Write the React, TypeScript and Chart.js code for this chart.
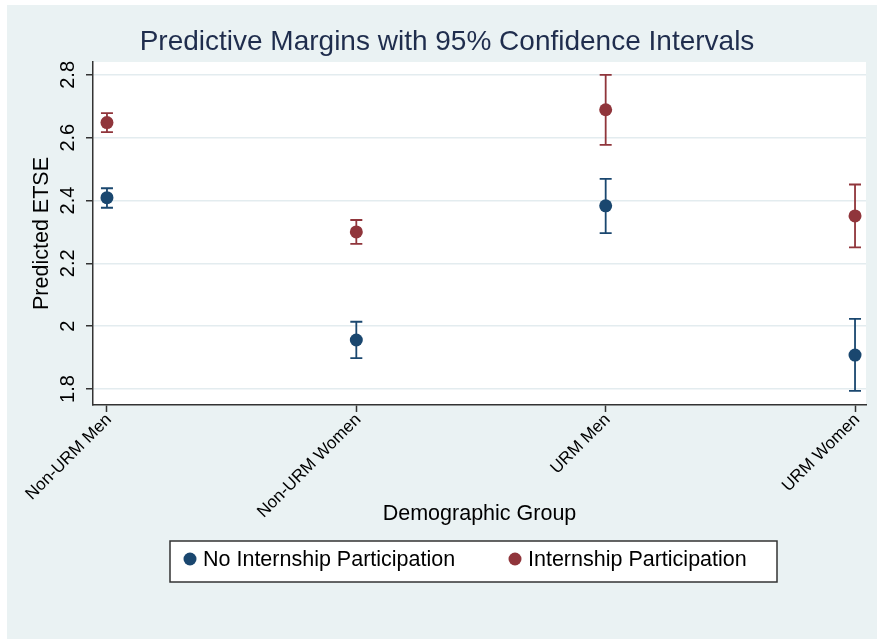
import React, { useEffect, useRef } from "react";
import { Chart, registerables } from "chart.js";

Chart.register(...registerables);

const categories = ["Non-URM Men", "Non-URM Women", "URM Men", "URM Women"];
const seriesNames = ["No Internship Participation", "Internship Participation"];
const noIntern = [2.409, 1.956, 2.383, 1.908];
const noInternLow = [2.377, 1.898, 2.296, 1.794];
const noInternHigh = [2.439, 2.014, 2.469, 2.023];
const intern = [2.648, 2.3, 2.689, 2.351];
const internLow = [2.618, 2.262, 2.577, 2.251];
const internHigh = [2.678, 2.338, 2.8, 2.451];
const yTickValues = [1.8, 2, 2.2, 2.4, 2.6, 2.8];
const yTickLabels = ["1.8", "2", "2.2", "2.4", "2.6", "2.8"];

const titleText = "Predictive Margins with 95% Confidence Intervals";
const xTitle = "Demographic Group";
const yTitle = "Predicted ETSE";

const BLUE = "#1a476f";
const RED = "#90353b";
const FONT = "'Liberation Sans', Arial, Helvetica, sans-serif";

const seriesColors = [BLUE, RED];
const lows = [noInternLow, internLow];
const highs = [noInternHigh, internHigh];

const decor = {
  id: "decor",
  beforeDraw(chart: any) {
    const { ctx, chartArea: a, width, height } = chart;
    ctx.save();
    ctx.fillStyle = "#ffffff";
    ctx.fillRect(0, 0, width, height);
    ctx.fillStyle = "#EAF2F3";
    ctx.fillRect(7, 5, width - 7, 634);
    ctx.fillStyle = "#ffffff";
    ctx.fillRect(a.left, a.top, a.right - a.left, a.bottom - a.top);
    ctx.restore();
  },
  beforeDatasetsDraw(chart: any) {
    const { ctx } = chart;
    const xs = chart.scales.x;
    const ys = chart.scales.y;
    ctx.save();
    ctx.lineWidth = 1.8;
    for (let s = 0; s < 2; s++) {
      ctx.strokeStyle = seriesColors[s];
      for (let i = 0; i < categories.length; i++) {
        const x = xs.getPixelForValue(i);
        const y1 = ys.getPixelForValue(lows[s][i]);
        const y2 = ys.getPixelForValue(highs[s][i]);
        ctx.beginPath();
        ctx.moveTo(x, y1);
        ctx.lineTo(x, y2);
        ctx.moveTo(x - 6, y1);
        ctx.lineTo(x + 6, y1);
        ctx.moveTo(x - 6, y2);
        ctx.lineTo(x + 6, y2);
        ctx.stroke();
      }
    }
    ctx.restore();
  },
  afterDraw(chart: any) {
    const { ctx, chartArea: a } = chart;
    const xs = chart.scales.x;
    const ys = chart.scales.y;
    ctx.save();
    // title
    ctx.fillStyle = "#1f2d4d";
    ctx.font = `28px ${FONT}`;
    ctx.textAlign = "center";
    ctx.textBaseline = "middle";
    ctx.fillText(titleText, 447, 42);
    // y tick labels
    ctx.fillStyle = "#000";
    ctx.font = `20px ${FONT}`;
    yTickValues.forEach((v, i) => {
      const y = ys.getPixelForValue(v);
      ctx.save();
      ctx.translate(68, y);
      ctx.rotate(-Math.PI / 2);
      ctx.fillText(yTickLabels[i], 0, 0);
      ctx.restore();
    });
    // x tick labels
    ctx.font = `17px ${FONT}`;
    ctx.textAlign = "right";
    categories.forEach((c, i) => {
      const x = xs.getPixelForValue(i);
      ctx.save();
      ctx.translate(x + 2, 417);
      ctx.rotate(-Math.PI / 4);
      ctx.fillText(c, 0, 0);
      ctx.restore();
    });
    // axis titles
    ctx.textAlign = "center";
    ctx.font = `21.5px ${FONT}`;
    ctx.fillText(xTitle, (a.left + a.right) / 2, 514);
    ctx.save();
    ctx.translate(42, (a.top + a.bottom) / 2);
    ctx.rotate(-Math.PI / 2);
    ctx.fillText(yTitle, 0, 0);
    ctx.restore();
    // legend
    ctx.fillStyle = "#ffffff";
    ctx.fillRect(170, 541, 607, 41);
    ctx.strokeStyle = "#333333";
    ctx.lineWidth = 1.5;
    ctx.strokeRect(170, 541, 607, 41);
    const lx = [190, 515];
    ctx.textAlign = "left";
    seriesNames.forEach((name, i) => {
      ctx.fillStyle = seriesColors[i];
      ctx.beginPath();
      ctx.arc(lx[i], 559, 6.5, 0, Math.PI * 2);
      ctx.fill();
      ctx.fillStyle = "#000";
      ctx.fillText(name, lx[i] + 13, 560);
    });
    ctx.restore();
  },
};

export default function App() {
  const ref = useRef<HTMLCanvasElement | null>(null);
  useEffect(() => {
    if (!ref.current) return;
    const chart = new Chart(ref.current, {
      type: "scatter",
      data: {
        datasets: [
          {
            label: seriesNames[0],
            data: noIntern.map((v, i) => ({ x: i, y: v })),
            backgroundColor: BLUE,
            borderColor: BLUE,
            pointRadius: 6.5,
            pointBorderWidth: 0,
          },
          {
            label: seriesNames[1],
            data: intern.map((v, i) => ({ x: i, y: v })),
            backgroundColor: RED,
            borderColor: RED,
            pointRadius: 6.5,
            pointBorderWidth: 0,
          },
        ],
      },
      options: {
        responsive: false,
        animation: false,
        devicePixelRatio: 1,
        layout: { padding: { left: 86, top: 62, right: 11, bottom: 230 } },
        plugins: {
          legend: { display: false },
          tooltip: { enabled: false },
          title: { display: false },
        },
        scales: {
          x: {
            type: "linear",
            min: -0.056,
            max: 3.044,
            afterBuildTicks: (s: any) => {
              s.ticks = categories.map((_, i) => ({ value: i }));
            },
            afterFit: (s: any) => {
              s.height = 7;
            },
            grid: {
              drawOnChartArea: false,
              tickLength: 7,
              tickColor: "#333333",
              tickWidth: 1.5,
            },
            border: { display: true, color: "#333333", width: 1.5 },
            ticks: { display: false },
          },
          y: {
            type: "linear",
            min: 1.749,
            max: 2.841,
            afterBuildTicks: (s: any) => {
              s.ticks = yTickValues.map((v) => ({ value: v }));
            },
            afterFit: (s: any) => {
              s.width = 7;
            },
            grid: {
              color: "#E3ECEF",
              lineWidth: 1.5,
              tickLength: 7,
              tickColor: "#333333",
              tickWidth: 1.5,
            },
            border: { display: true, color: "#333333", width: 1.5 },
            ticks: { display: false },
          },
        },
      },
      plugins: [decor],
    } as any);
    return () => chart.destroy();
  }, []);
  return (
    <div style={{ position: "absolute", left: 0, top: 0, width: 877, height: 642 }}>
      <canvas ref={ref} width={877} height={642} style={{ width: 877, height: 642 }} />
    </div>
  );
}
